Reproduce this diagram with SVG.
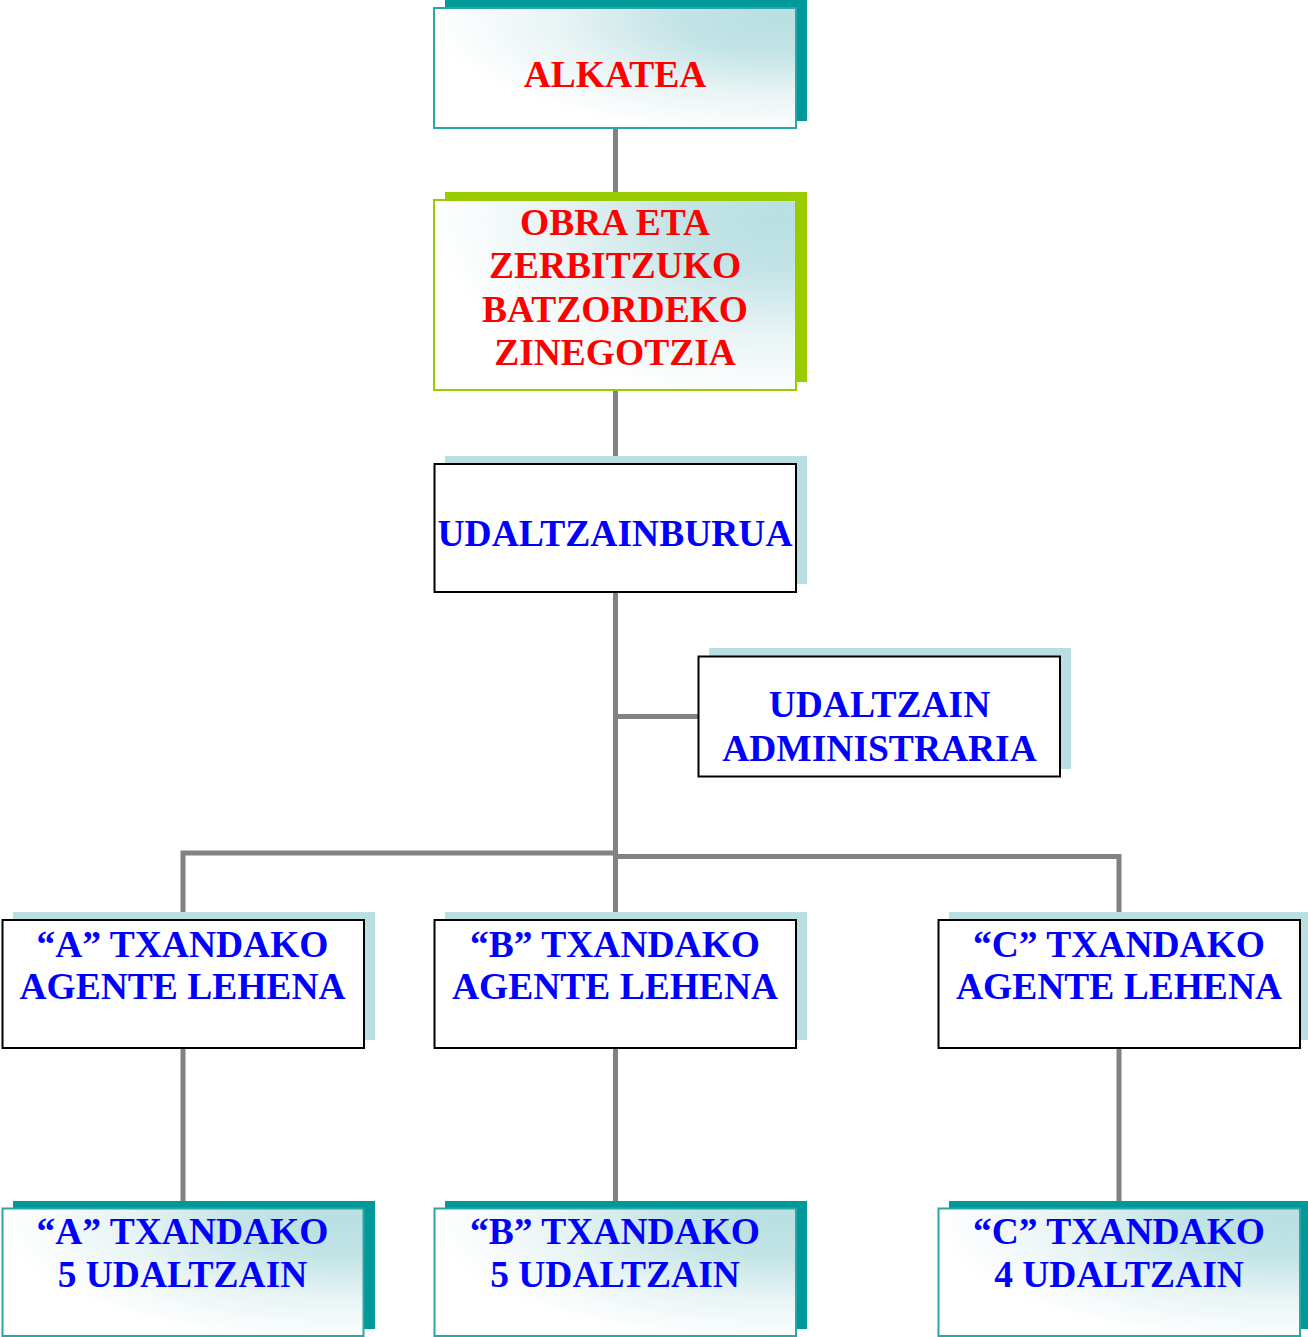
<svg xmlns="http://www.w3.org/2000/svg" width="1308" height="1337" viewBox="0 0 1308 1337">
<defs>
<radialGradient id="g" cx="0.95" cy="0.1" r="0.95" fx="0.95" fy="0.1">
<stop offset="0" stop-color="#b8dfe2"/>
<stop offset="0.3" stop-color="#c4e4e6"/>
<stop offset="0.65" stop-color="#e9f4f5"/>
<stop offset="1" stop-color="#ffffff"/>
</radialGradient>
<style>
.t{font-family:"Liberation Serif","Times New Roman",serif;font-weight:bold;font-size:37.5px;text-anchor:middle}
.red{fill:#ff0000}
.blue{fill:#0000ff}
.sh-teal{fill:#009999}
.sh-green{fill:#99cc00}
.sh-light{fill:#b9dfe2}
.bx-teal{fill:url(#g);stroke:#2aa6a6;stroke-width:2}
.bx-green{fill:url(#g);stroke:#99cc00;stroke-width:2}
.bx-plain{fill:#ffffff;stroke:#000000;stroke-width:2}
.ln{stroke:#828282;stroke-width:5;fill:none}
</style>
</defs>
<rect width="1308" height="1337" fill="#ffffff"/>
<g id="connectors">
<line class="ln" x1="615.5" y1="128" x2="615.5" y2="201"/>
<line class="ln" x1="615.5" y1="390" x2="615.5" y2="464"/>
<line class="ln" x1="615.5" y1="592" x2="615.5" y2="920"/>
<line class="ln" x1="615.5" y1="716.5" x2="699" y2="716.5"/>
<polyline class="ln" points="183,920 183,853 615.5,853"/>
<polyline class="ln" points="615.5,856.5 1119,856.5 1119,920"/>
<line class="ln" x1="183" y1="1048" x2="183" y2="1208"/>
<line class="ln" x1="615.5" y1="1048" x2="615.5" y2="1208"/>
<line class="ln" x1="1119" y1="1048" x2="1119" y2="1208"/>
</g>
<g id="alkatea">
<rect class="sh-teal" x="445" y="0" width="362" height="121"/>
<rect class="bx-teal" x="434" y="8" width="362" height="120"/>
<text class="t red" x="615" y="87">ALKATEA</text>
</g>
<g id="zinegotzia">
<rect class="sh-green" x="445" y="192" width="362" height="190"/>
<rect class="bx-green" x="434" y="200" width="362" height="190"/>
<text class="t red" x="615" y="235">OBRA ETA</text>
<text class="t red" x="615" y="278.3">ZERBITZUKO</text>
<text class="t red" x="615" y="321.6">BATZORDEKO</text>
<text class="t red" x="615" y="365">ZINEGOTZIA</text>
</g>
<g id="udaltzainburua">
<rect class="sh-light" x="445" y="456" width="362" height="128"/>
<rect class="bx-plain" x="434.5" y="464" width="361.5" height="128"/>
<text class="t blue" x="615" y="546">UDALTZAINBURUA</text>
</g>
<g id="administraria">
<rect class="sh-light" x="709" y="648" width="362" height="121"/>
<rect class="bx-plain" x="698.5" y="656.5" width="361.5" height="120"/>
<text class="t blue" x="879.5" y="717">UDALTZAIN</text>
<text class="t blue" x="879.5" y="760.5">ADMINISTRARIA</text>
</g>
<g id="agente-a">
<rect class="sh-light" x="13" y="912" width="362" height="128"/>
<rect class="bx-plain" x="2.5" y="920" width="361.5" height="128"/>
<text class="t blue" x="182.5" y="956.5">“A” TXANDAKO</text>
<text class="t blue" x="182.5" y="998.5">AGENTE LEHENA</text>
</g>
<g id="agente-b">
<rect class="sh-light" x="445" y="912" width="362" height="128"/>
<rect class="bx-plain" x="434.5" y="920" width="361.5" height="128"/>
<text class="t blue" x="615" y="956.5">“B” TXANDAKO</text>
<text class="t blue" x="615" y="998.5">AGENTE LEHENA</text>
</g>
<g id="agente-c">
<rect class="sh-light" x="949" y="912" width="362" height="128"/>
<rect class="bx-plain" x="938.5" y="920" width="361.5" height="128"/>
<text class="t blue" x="1119" y="956.5">“C” TXANDAKO</text>
<text class="t blue" x="1119" y="998.5">AGENTE LEHENA</text>
</g>
<g id="udaltzain-a">
<rect class="sh-teal" x="13" y="1201" width="362" height="128"/>
<rect class="bx-teal" x="2.5" y="1208.5" width="361" height="127.5"/>
<text class="t blue" x="182.5" y="1243.5">“A” TXANDAKO</text>
<text class="t blue" x="182.5" y="1286.5">5 UDALTZAIN</text>
</g>
<g id="udaltzain-b">
<rect class="sh-teal" x="445" y="1201" width="362" height="128"/>
<rect class="bx-teal" x="434.5" y="1208.5" width="361.5" height="127.5"/>
<text class="t blue" x="615" y="1243.5">“B” TXANDAKO</text>
<text class="t blue" x="615" y="1286.5">5 UDALTZAIN</text>
</g>
<g id="udaltzain-c">
<rect class="sh-teal" x="949" y="1201" width="362" height="128"/>
<rect class="bx-teal" x="938.5" y="1208.5" width="361.5" height="127.5"/>
<text class="t blue" x="1119" y="1243.5">“C” TXANDAKO</text>
<text class="t blue" x="1119" y="1286.5">4 UDALTZAIN</text>
</g>
</svg>
